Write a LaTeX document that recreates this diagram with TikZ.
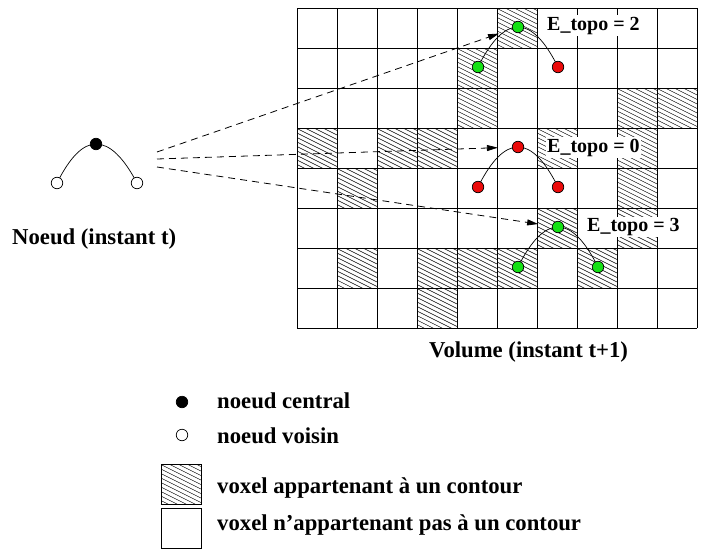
\documentclass[tikz,border=0pt]{standalone}
\usepackage{fontspec}
\setmainfont{Liberation Serif}
\usetikzlibrary{arrows.meta}
\pgfdeclarelayer{bg}
\pgfsetlayers{bg,main}

\definecolor{nodegreen}{RGB}{20,225,20}
\definecolor{nodered}{RGB}{235,10,10}

\tikzset{
  cellgrid/.style={line width=0.9pt},
  hatchline/.style={line width=0.45pt},
  dot/.style={circle,draw=black,line width=0.7pt,minimum size=11.5pt,inner sep=0pt},
  central/.style={dot,fill=black},
  neighbour/.style={dot,fill=white},
  gdot/.style={dot,fill=nodegreen},
  rdot/.style={dot,fill=nodered},
  link/.style={line width=0.7pt},
  jump/.style={line width=0.8pt,dash pattern=on 7pt off 5pt,
    -{Triangle[length=11pt,width=6pt]},shorten >=14pt},
  lbl/.style={font=\fontsize{22.7}{26}\selectfont\bfseries,inner sep=0pt,anchor=base west},
  elbl/.style={font=\fontsize{20}{24}\selectfont\bfseries,fill=white,inner sep=1.5pt,anchor=base west},
}

% hatched voxel: column, row of the grid
\newcommand\hatchcell[2]{%
  \begin{scope}
    \clip (297+40*#1,8+40*#2) rectangle ++(40,40);
    \foreach \k in {-22,-17.5,...,42}
      \draw[hatchline] (297+40*#1,8+40*#2+\k) -- ++(40,20);
  \end{scope}}

\begin{document}
\begin{tikzpicture}[x=1pt,y=-1pt]
\useasboundingbox (0,0) rectangle (709,554);

% contour voxels
\foreach \c/\r in {5/0,4/1,4/2,8/2,9/2,0/3,2/3,3/3,6/3,8/3,1/4,8/4,6/5,8/5,
                   1/6,3/6,4/6,5/6,7/6,3/7}
  {\hatchcell{\c}{\r}}

% voxel grid
\foreach \i in {0,...,10}
  \draw[cellgrid] (297+40*\i,8) -- (297+40*\i,328);
\foreach \j in {0,...,8}
  \draw[cellgrid] (297,8+40*\j) -- (697,8+40*\j);

% node at instant t
\node[central]   (nc) at (96,144) {};
\node[neighbour] (nl) at (57,183) {};
\node[neighbour] (nr) at (137,183) {};
\begin{pgfonlayer}{bg}
  \draw[link] (nl.center) .. controls +(13,-26) and +(-13,0) .. (nc.center)
              .. controls +(13.7,0) and +(-13.7,-26) .. (nr.center);
\end{pgfonlayer}
\node[lbl] (tlabel) at (12,244) {Noeud (instant t)};

% candidate positions at instant t+1
\node[gdot] (ac) at (518,27) {};
\node[gdot] (al) at (478,67) {};
\node[rdot] (ar) at (558,67) {};
\node[rdot] (bc) at (518,147) {};
\node[rdot] (bl) at (478,187) {};
\node[rdot] (br) at (558,187) {};
\node[gdot] (cc) at (558,227) {};
\node[gdot] (cl) at (518,267) {};
\node[gdot] (cr) at (598,267) {};
\begin{pgfonlayer}{bg}
  \foreach \p in {a,b,c}
    \draw[link] (\p l.center) .. controls +(13.3,-26.7) and +(-13.3,0) .. (\p c.center)
                .. controls +(13.3,0) and +(-13.3,-26.7) .. (\p r.center);
\end{pgfonlayer}

\node[elbl] (ea) at (545.5,30) {E\_topo = 2};
\node[elbl] (eb) at (545.5,152) {E\_topo = 0};
\node[elbl] (ec) at (585.5,231.7) {E\_topo = 3};

% displacements
\coordinate (s1) at (157,152);
\coordinate (s2) at (157,159);
\coordinate (s3) at (157,167);
\draw[jump] (s1) -- (ac);
\draw[jump] (s2) -- (bc);
\draw[jump] (s3) -- (cc);

\node[lbl] (vlabel) at (429,357) {Volume (instant t+1)};

% legend
\node[central]   (kc) at (182,402) {};
\node[neighbour] (kn) at (182,435) {};
\begin{scope}
  \clip (161,464) rectangle (201,504);
  \foreach \k in {-22,-17.5,...,42}
    \draw[hatchline] (161,464+\k) -- ++(40,20);
\end{scope}
\draw[cellgrid,line width=0.7pt] (161,464) rectangle (201,504);
\draw[cellgrid,line width=0.7pt] (161,508) rectangle (201,548);
\node[lbl] (k1) at (217,408) {noeud central};
\node[lbl] (k2) at (217,443) {noeud voisin};
\node[lbl] (k3) at (217,493) {voxel appartenant à un contour};
\node[lbl] (k4) at (217,530) {voxel n’appartenant pas à un contour};
\end{tikzpicture}
\end{document}
